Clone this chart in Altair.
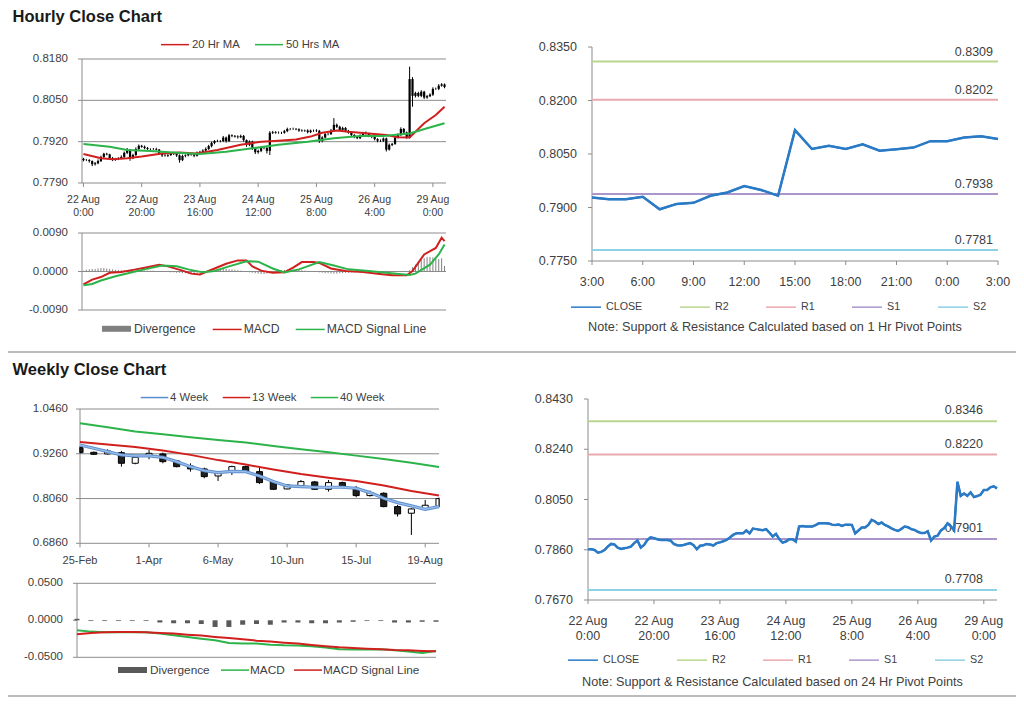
import altair as alt
import pandas as pd

# ---------------- data ----------------
section_titles = ["Hourly Close Chart", "Weekly Close Chart"]

# hourly closes (125 bars, 22 Aug 0:00 .. 29 Aug 4:00)
h_close = [
    0.7862, 0.7862, 0.7859, 0.7849, 0.7852, 0.7859, 0.7872, 0.7882, 0.7880, 0.7868,
    0.7863, 0.7866, 0.7868, 0.7872, 0.7885, 0.7895, 0.7868, 0.7878, 0.7897, 0.7907,
    0.7904, 0.7900, 0.7897, 0.7897, 0.7897, 0.7895, 0.7882, 0.7877, 0.7876, 0.7878,
    0.7882, 0.7885, 0.7877, 0.7862, 0.7875, 0.7877, 0.7882, 0.7880, 0.7876, 0.7885,
    0.7888, 0.7892, 0.7897, 0.7906, 0.7916, 0.7922, 0.7922, 0.7922, 0.7933, 0.7922,
    0.7940, 0.7938, 0.7936, 0.7934, 0.7938, 0.7925, 0.7910, 0.7920, 0.7900, 0.7887,
    0.7891, 0.7900, 0.7900, 0.7891, 0.7948, 0.7950, 0.7948, 0.7948, 0.7948, 0.7953,
    0.7960, 0.7960, 0.7960, 0.7959, 0.7955, 0.7954, 0.7955, 0.7950, 0.7955, 0.7955,
    0.7954, 0.7922, 0.7933, 0.7944, 0.7944, 0.7954, 0.7973, 0.7967, 0.7957, 0.7963,
    0.7954, 0.7948, 0.7941, 0.7935, 0.7931, 0.7939, 0.7948, 0.7945, 0.7938, 0.7935,
    0.7928, 0.7923, 0.7923, 0.7930, 0.7895, 0.7910, 0.7913, 0.7933, 0.7942, 0.7960,
    0.7949, 0.7933, 0.8117, 0.8064, 0.8073, 0.8064, 0.8077, 0.8059, 0.8063, 0.8068,
    0.8086, 0.8086, 0.8096, 0.8100, 0.8092,
]
h_first_open = 0.7866
# candle wicks above / below the body, in pips
h_wick_up = [
    3, 4, 3, 2, 4, 5, 4, 3, 3, 2, 4, 3, 3, 5, 4, 5, 2, 4, 5, 4,
    3, 4, 3, 2, 3, 4, 2, 3, 4, 3, 4, 3, 2, 3, 4, 3, 4, 2, 3, 4,
    3, 4, 5, 4, 4, 3, 4, 3, 5, 3, 4, 3, 3, 4, 4, 3, 2, 4, 3, 3,
    4, 4, 3, 3, 5, 4, 3, 4, 3, 4, 4, 3, 4, 3, 3, 4, 3, 4, 3, 3,
    4, 3, 4, 3, 4, 6, 21, 4, 3, 4, 3, 3, 4, 3, 3, 4, 3, 4, 3, 3,
    4, 3, 4, 3, 3, 4, 3, 4, 4, 5, 3, 3, 39, 6, 4, 4, 5, 3, 4, 4,
    5, 4, 5, 4, 3,
]
h_wick_dn = [
    4, 3, 5, 6, 4, 3, 3, 4, 3, 5, 4, 3, 4, 3, 3, 4, 8, 3, 3, 4,
    3, 4, 3, 4, 3, 3, 4, 5, 3, 4, 3, 4, 5, 8, 3, 4, 3, 4, 5, 3,
    4, 3, 3, 3, 4, 4, 3, 4, 3, 5, 3, 4, 3, 4, 3, 5, 6, 4, 6, 6,
    5, 4, 4, 8, 13, 4, 3, 3, 4, 3, 3, 4, 3, 3, 4, 3, 3, 4, 3, 4,
    4, 6, 4, 3, 4, 3, 3, 4, 3, 3, 4, 3, 4, 4, 3, 3, 4, 3, 4, 4,
    4, 5, 4, 4, 6, 3, 4, 3, 3, 4, 3, 4, 3, 34, 5, 4, 4, 5, 4, 3,
    4, 3, 4, 3, 4,
]
ma20_idx = [0, 6, 10, 15, 20, 27, 33, 39, 46, 54, 61, 67, 73, 78, 82, 87, 91, 98, 104, 108, 112, 117, 121, 124]
ma20 = [0.7881, 0.7868, 0.7865, 0.7868, 0.7873, 0.7883, 0.7886, 0.7883, 0.7894, 0.7910,
        0.7920, 0.7923, 0.7927, 0.7936, 0.7948, 0.7955, 0.7951, 0.7946, 0.7941, 0.7934,
        0.7933, 0.7978, 0.8004, 0.8030]
ma50_idx = [0, 9, 15, 23, 32, 40, 49, 58, 67, 77, 86, 95, 103, 112, 118, 124]
ma50 = [0.7913, 0.7904, 0.7894, 0.7891, 0.7885, 0.7881, 0.7888, 0.7899, 0.7910, 0.7920,
        0.7931, 0.7938, 0.7938, 0.7946, 0.7962, 0.7978]

macd_h_idx = [0, 3, 6, 9, 13, 18, 21, 26, 29, 34, 37, 40, 44, 49, 53, 56, 58, 61, 65, 69,
              72, 75, 79, 81, 85, 90, 96, 101, 106, 111, 113, 117, 121, 123, 124]
macd_h = [-0.0030, -0.0019, -0.0013, -0.0003, -0.0001, 0.0005, 0.0009, 0.0016, 0.0012, 0.0002,
          -0.0005, -0.0007, 0.0004, 0.0018, 0.0026, 0.0026, 0.0012, 0.0002, -0.0003, -0.0002,
          0.0009, 0.0022, 0.0022, 0.0020, 0.0007, 0.0001, -0.0001, -0.0005, -0.0009, -0.0009,
          0.0001, 0.0040, 0.0055, 0.0079, 0.0071]
sig_h_idx = [0, 3, 6, 11, 16, 21, 27, 32, 36, 41, 45, 50, 56, 60, 65, 69, 74, 81, 86, 91,
             98, 104, 112, 114, 119, 122, 124]
sig_h = [-0.0032, -0.0029, -0.0021, -0.0011, -0.0003, 0.0005, 0.0014, 0.0012, 0.0005, -0.0002,
         0.0001, 0.0012, 0.0024, 0.0023, 0.0007, -0.0002, 0.0005, 0.0022, 0.0014, 0.0005,
         0.0001, -0.0003, -0.0008, -0.0005, 0.0016, 0.0040, 0.0063]
# divergence, in units of 0.0001
div_h = [
    2, 4, 5, 6, 6, 7, 8, 8, 7, 6, 5, 4, 4, 3, 3, 3, 3, 3, 3, 2,
    2, 2, 2, 2, 2, 1, 1, 1, 0, -1, -2, -2, -3, -3, -4, -4, -5, -5, -4, -3,
    -2, -1, 1, 2, 3, 4, 5, 6, 6, 6, 5, 5, 4, 3, 2, 1, -1, -2, -3, -4,
    -5, -6, -6, -5, -4, -2, -1, 1, 3, 4, 5, 5, 5, 4, 4, 3, 2, 1, 1, 0,
    -1, -2, -3, -4, -4, -5, -5, -5, -4, -4, -3, -3, -2, -2, -1, -1, -1, 0, 0, 0,
    0, 0, 0, 0, -1, -1, -1, -1, -1, 0, 0, 0, 3, 10, 16, 22, 27, 31, 34, 34,
    33, 30, 29, 31, 13,
]
hourly_ticks = [0, 20, 40, 60, 80, 100, 120]
hourly_tick_labels = ["22 Aug|0:00", "22 Aug|20:00", "23 Aug|16:00", "24 Aug|12:00",
                      "25 Aug|8:00", "26 Aug|4:00", "29 Aug|0:00"]
last24_ticks = [0, 3, 6, 9, 12, 15, 18, 21, 24]
last24_labels = ["3:00", "6:00", "9:00", "12:00", "15:00", "18:00", "21:00", "0:00", "3:00"]

piv_names = ["R2", "R1", "S1", "S2"]
piv1_vals = [0.8309, 0.8202, 0.7938, 0.7781]
piv24_vals = [0.8346, 0.8220, 0.7901, 0.7708]
note1 = "Note: Support & Resistance Calculated based on 1 Hr Pivot Points"
note24 = "Note: Support & Resistance Calculated based on 24 Hr Pivot Points"

# weekly candles (25-Feb .. 26-Aug)
w_open = [0.9424, 0.9299, 0.9255, 0.9290, 0.9005, 0.9201, 0.9255, 0.9067, 0.8933, 0.8853,
          0.8665, 0.8799, 0.8915, 0.8781, 0.8514, 0.8317, 0.8406, 0.8505, 0.8308, 0.8487,
          0.8335, 0.8139, 0.8201, 0.7844, 0.7666, 0.7781, 0.7844]
w_close = [0.9290, 0.9246, 0.9335, 0.9005, 0.9165, 0.9272, 0.9049, 0.8915, 0.8853, 0.8647,
           0.8781, 0.8915, 0.8781, 0.8487, 0.8308, 0.8424, 0.8514, 0.8308, 0.8487, 0.8362,
           0.8139, 0.8219, 0.7844, 0.7648, 0.7781, 0.7880, 0.8058]
w_high = [0.9451, 0.9317, 0.9380, 0.9335, 0.9183, 0.9362, 0.9290, 0.9094, 0.9004, 0.8888,
          0.8799, 0.8942, 0.8942, 0.8888, 0.8531, 0.8442, 0.8558, 0.8531, 0.8558, 0.8514,
          0.8398, 0.8272, 0.8228, 0.7889, 0.7799, 0.8022, 0.8085]
w_low = [0.9272, 0.9228, 0.9237, 0.8915, 0.8978, 0.9112, 0.9004, 0.8897, 0.8781, 0.8603,
         0.8531, 0.8692, 0.8755, 0.8451, 0.8290, 0.8308, 0.8362, 0.8290, 0.8246, 0.8335,
         0.8094, 0.8112, 0.7826, 0.7576, 0.7085, 0.7755, 0.7826]
ma4w = [0.9496, 0.9406, 0.9317, 0.9228, 0.9201, 0.9201, 0.9165, 0.9049, 0.8915, 0.8808,
        0.8755, 0.8790, 0.8781, 0.8665, 0.8514, 0.8398, 0.8380, 0.8362, 0.8362, 0.8362,
        0.8335, 0.8219, 0.8067, 0.7951, 0.7862, 0.7773, 0.7844]
ma_even_idx = [0, 2, 4, 6, 8, 10, 12, 14, 16, 18, 20, 22, 24, 26]
ma13w = [0.9576, 0.9510, 0.9440, 0.9350, 0.9230, 0.9090, 0.8970, 0.8840, 0.8720, 0.8620,
         0.8530, 0.8410, 0.8260, 0.8142]
ma40w = [1.0076, 0.9970, 0.9860, 0.9780, 0.9700, 0.9630, 0.9560, 0.9470, 0.9380, 0.9300,
         0.9210, 0.9120, 0.9020, 0.8905]
w_macd = [-0.0135, -0.0153, -0.0162, -0.0162, -0.0158, -0.0162, -0.0180, -0.0203, -0.0225, -0.0248,
          -0.0270, -0.0306, -0.0315, -0.0315, -0.0329, -0.0338, -0.0342, -0.0351, -0.0369, -0.0392,
          -0.0396, -0.0396, -0.0392, -0.0405, -0.0423, -0.0441, -0.0414]
w_signal = [-0.0189, -0.0171, -0.0162, -0.0158, -0.0158, -0.0162, -0.0171, -0.0180, -0.0194, -0.0207,
            -0.0225, -0.0239, -0.0257, -0.0275, -0.0288, -0.0302, -0.0315, -0.0333, -0.0351, -0.0365,
            -0.0374, -0.0383, -0.0392, -0.0401, -0.0405, -0.0414, -0.0419]
w_div = [0.0020, -0.0010, -0.0010, -0.0010, -0.0010, -0.0010, -0.0030, -0.0040, -0.0040, -0.0050,
         -0.0090, -0.0090, -0.0060, -0.0050, -0.0060, -0.0030, -0.0030, -0.0040, -0.0040, -0.0030,
         -0.0020, -0.0010, -0.0010, -0.0030, -0.0030, -0.0020, -0.0020]
week_ticks = [0, 5, 10, 15, 20, 25]
week_labels = ["25-Feb", "1-Apr", "6-May", "10-Jun", "15-Jul", "19-Aug"]

# ---------------- style ----------------
FONT = "Liberation Sans"
TXT = "#404040"
AXC = "#8c8c8c"
RED = "#d0201e"
GREEN = "#2cb34a"
BLUE = "#2a7ac6"
BLUE4 = "#5b8fd0"
BLUE4_IN = "#9dbde6"
DIVC = "#808080"
DIVW = "#595959"
R2C, R1C, S1C, S2C = "#b9d68c", "#eaa9ae", "#ab96cc", "#8dd1e6"
W, H = 1008, 689
M = 8  # page margin
ONE = pd.DataFrame({"k": [0]})


def sc(domain, a, b, clamp=False):
    return alt.Scale(domain=domain, range=[a - M, b - M], nice=False, zero=False, clamp=clamp)


def dX(v, X):
    return alt.X(datum=v, type="quantitative", scale=X, axis=None)


def dY(v, Y):
    return alt.Y(datum=v, type="quantitative", scale=Y, axis=None)


def y_axis(X, Y, x0, ticks, size=11.5, pad=14):
    tdf = pd.DataFrame({"v": ticks, "lab": [f"{t:.4f}" for t in ticks]})
    return [
        alt.Chart(ONE).mark_rule(color=AXC, strokeWidth=1).encode(
            x=dX(x0, X), y=dY(min(ticks), Y), y2=alt.Y2(datum=max(ticks))),
        alt.Chart(tdf).mark_point(shape="M0,0H-1", size=64, color=AXC, strokeWidth=1, opacity=1,
                                  filled=False).encode(x=dX(x0, X), y=alt.Y("v:Q", scale=Y, axis=None)),
        alt.Chart(tdf).mark_text(align="right", baseline="middle", dx=-pad, fontSize=size, font=FONT,
                                 color=TXT).encode(x=dX(x0, X), y=alt.Y("v:Q", scale=Y, axis=None),
                                                   text="lab:N"),
    ]


def x_axis(X, Y, y0, x0, x1, ticks, labels, size=11, pad=12, lh=12.5):
    tdf = pd.DataFrame({"v": ticks, "lab": labels})
    return [
        alt.Chart(ONE).mark_rule(color=AXC, strokeWidth=1).encode(
            x=dX(x0, X), x2=alt.X2(datum=x1), y=dY(y0, Y)),
        alt.Chart(tdf).mark_point(shape="M0,0V1", size=64, color=AXC, strokeWidth=1, opacity=1,
                                  filled=False).encode(x=alt.X("v:Q", scale=X, axis=None), y=dY(y0, Y)),
        alt.Chart(tdf).mark_text(align="center", baseline="top", dy=pad, fontSize=size, font=FONT,
                                 color=TXT, lineBreak="|", lineHeight=lh).encode(
            x=alt.X("v:Q", scale=X, axis=None), y=dY(y0, Y), text="lab:N"),
    ]


def grid(values, X, Y, x0, x1):
    return alt.Chart(pd.DataFrame({"g": values})).mark_rule(color=AXC, strokeWidth=1).encode(
        x=dX(x0, X), x2=alt.X2(datum=x1), y=alt.Y("g:Q", scale=Y, axis=None))


def leg(x, y, size, **kw):
    base = dict(orient="none", legendX=x - M, legendY=y - M - size / 2, direction="horizontal",
                title=None, symbolType="stroke", symbolStrokeWidth=1.5, symbolSize=size * size,
                labelFontSize=11.5, labelColor=TXT, labelFont=FONT, padding=0, labelOffset=4,
                columnPadding=17)
    base.update(kw)
    return alt.Legend(**base)


def note_mark(text, x, y):
    return alt.Chart(pd.DataFrame({"t": [text]})).mark_text(
        align="center", baseline="middle", fontSize=12.7, font=FONT, color=TXT).encode(
        x=alt.value(x - M), y=alt.value(y - M), text="t:N")


# ---------------- panel 1: hourly candles ----------------
n = len(h_close)
hdf = pd.DataFrame({"i": list(range(n)), "o": [h_first_open] + h_close[:-1], "c": h_close})
hdf["hi"] = hdf[["o", "c"]].max(axis=1) + pd.Series(h_wick_up) / 10000
hdf["lo"] = hdf[["o", "c"]].min(axis=1) - pd.Series(h_wick_dn) / 10000

X1 = sc([-0.5, 124.5], 82, 446)
Y1 = sc([0.7790, 0.8180], 183, 59)
ma_df = pd.concat([
    pd.DataFrame({"i": ma20_idx, "v": ma20, "s": "20 Hr MA"}),
    pd.DataFrame({"i": ma50_idx, "v": ma50, "s": "50 Hrs MA"}),
])
p1 = alt.layer(
    grid([0.7920, 0.8050, 0.8180], X1, Y1, -0.5, 124.5),
    *y_axis(X1, Y1, -0.5, [0.7790, 0.7920, 0.8050, 0.8180]),
    *x_axis(X1, Y1, 0.7790, -0.5, 124.5, hourly_ticks, hourly_tick_labels, size=10.5, pad=12, lh=12.5),
    alt.Chart(hdf).mark_rule(color="#000000", strokeWidth=1).encode(
        x=alt.X("i:Q", scale=X1, axis=None), y=alt.Y("lo:Q", scale=Y1, axis=None), y2="hi:Q"),
    alt.Chart(hdf).mark_rule(color="#000000", strokeWidth=2.2).encode(
        x=alt.X("i:Q", scale=X1, axis=None), y=alt.Y("o:Q", scale=Y1, axis=None), y2="c:Q"),
    alt.Chart(ma_df).mark_line(strokeWidth=2).encode(
        x=alt.X("i:Q", scale=X1, axis=None), y=alt.Y("v:Q", scale=Y1, axis=None),
        color=alt.Color("s:N", scale=alt.Scale(domain=["20 Hr MA", "50 Hrs MA"], range=[RED, GREEN]),
                        legend=leg(160, 43.3, 28, labelOffset=2, columnPadding=12, labelFontSize=11.3))),
)

# ---------------- panel 2: hourly MACD ----------------
Y2 = sc([-0.009, 0.009], 310, 233)
div_df = pd.DataFrame({"i": list(range(n)), "z": 0.0, "d": [d / 10000 for d in div_h], "s": "Divergence"})
macd_df = pd.concat([
    pd.DataFrame({"i": macd_h_idx, "v": macd_h, "s": "MACD"}),
    pd.DataFrame({"i": sig_h_idx, "v": sig_h, "s": "MACD Signal Line"}),
])
p2 = alt.layer(
    grid([-0.009, 0.0, 0.009], X1, Y2, -0.5, 124.5),
    *y_axis(X1, Y2, -0.5, [-0.009, 0.0, 0.009]),
    alt.Chart(div_df).mark_rule(strokeWidth=1).encode(
        x=alt.X("i:Q", scale=X1, axis=None), y=alt.Y("z:Q", scale=Y2, axis=None), y2="d:Q",
        color=alt.Color("s:N", scale=alt.Scale(domain=["Divergence"], range=[DIVC]),
                        legend=leg(99, 325.8, 29, symbolStrokeWidth=6, labelFontSize=12.2,
                                   labelOffset=0))),
    alt.Chart(macd_df).mark_line(strokeWidth=2).encode(
        x=alt.X("i:Q", scale=X1, axis=None), y=alt.Y("v:Q", scale=Y2, axis=None),
        color=alt.Color("s:N", scale=alt.Scale(domain=["MACD", "MACD Signal Line"], range=[RED, GREEN]),
                        legend=leg(211.7, 328.3, 29, labelFontSize=12.2, columnPadding=13,
                                   labelOffset=1))),
).resolve_scale(color="independent")


# ---------------- panels 3 & 6: close with pivots ----------------
def pivot_panel(X, Y, xmax, closes, pvals, yvals, ticks, tlabels, xsize, xpad, lh, legpos, dx, dy):
    pdf = pd.DataFrame({"s": piv_names, "v": pvals, "lab": [f"{v:.4f}" for v in pvals]})
    rows = []
    for s, v in zip(piv_names, pvals):
        rows.append({"x": 0, "v": v, "s": s})
        rows.append({"x": xmax, "v": v, "s": s})
    for k, v in enumerate(closes):
        rows.append({"x": k, "v": v, "s": "CLOSE"})
    ldf = pd.DataFrame(rows)
    cdf = pd.DataFrame({"x": list(range(len(closes))), "v": closes})
    cscale = alt.Scale(domain=["CLOSE"] + piv_names, range=[BLUE, R2C, R1C, S1C, S2C])
    labels = alt.Chart(pdf).mark_text(align="right", baseline="alphabetic", dx=dx, dy=dy,
                                      fontSize=12.5, font=FONT, color=TXT).encode(
        x=dX(xmax, X), y=alt.Y("v:Q", scale=Y, axis=None), text="lab:N")
    lines = alt.Chart(ldf).mark_line(strokeWidth=2).encode(
        x=alt.X("x:Q", scale=X, axis=None), y=alt.Y("v:Q", scale=Y, axis=None),
        color=alt.Color("s:N", scale=cscale,
                        legend=leg(legpos[0], legpos[1], 30, labelFontSize=10.7, columnPadding=34)))
    close = alt.Chart(cdf).mark_line(strokeWidth=2.5, color=BLUE).encode(
        x=alt.X("x:Q", scale=X, axis=None), y=alt.Y("v:Q", scale=Y, axis=None))
    return alt.layer(
        *y_axis(X, Y, 0, yvals, size=12.5, pad=15),
        *x_axis(X, Y, min(yvals), 0, xmax, ticks, tlabels, size=xsize, pad=xpad, lh=lh),
        labels, lines, close,
    )


X3 = sc([0, 24], 592, 998)
Y3 = sc([0.775, 0.835], 261, 47)
p3 = pivot_panel(X3, Y3, 24, h_close[100:], piv1_vals, [0.775, 0.790, 0.805, 0.820, 0.835],
                 last24_ticks, last24_labels, 12.5, 15, 15, (570, 306), -5, -6)

X6 = sc([0, 124], 588, 997)
Y6 = sc([0.767, 0.843], 600, 399)
p6 = pivot_panel(X6, Y6, 124, h_close, piv24_vals, [0.767, 0.786, 0.805, 0.824, 0.843],
                 hourly_ticks, hourly_tick_labels, 12.5, 14.5, 15, (567, 659), -14, -7)

# ---------------- panel 4: weekly candles ----------------
nw = len(w_close)
wdf = pd.DataFrame({"i": list(range(nw)), "o": w_open, "c": w_close, "hi": w_high, "lo": w_low})
wdf["xl"] = wdf["i"] - 0.22
wdf["xr"] = wdf["i"] + 0.22
X4 = sc([0, 26], 80, 439, clamp=True)
Y4 = sc([0.686, 1.046], 543.3, 409)
wma_df = pd.concat([
    pd.DataFrame({"i": ma_even_idx, "v": ma13w, "s": "13 Week"}),
    pd.DataFrame({"i": ma_even_idx, "v": ma40w, "s": "40 Week"}),
])
w4_df = pd.DataFrame({"i": list(range(nw)), "v": ma4w, "s": "4 Week"})
wscale = alt.Scale(domain=["4 Week", "13 Week", "40 Week"], range=[BLUE4, RED, GREEN])
p4 = alt.layer(
    grid([0.806, 0.926, 1.046], X4, Y4, 0, 26),
    *y_axis(X4, Y4, 0, [0.686, 0.806, 0.926, 1.046], pad=12),
    *x_axis(X4, Y4, 0.686, 0, 26, week_ticks, week_labels, size=11, pad=11.5),
    alt.Chart(wdf).mark_rule(color="#000000", strokeWidth=1).encode(
        x=alt.X("i:Q", scale=X4, axis=None), y=alt.Y("lo:Q", scale=Y4, axis=None), y2="hi:Q"),
    alt.Chart(wdf).mark_rect(stroke="#000000", strokeWidth=1).encode(
        x=alt.X("xl:Q", scale=X4, axis=None), x2="xr:Q",
        y=alt.Y("o:Q", scale=Y4, axis=None), y2="c:Q",
        fill=alt.condition(alt.datum.c < alt.datum.o, alt.value("#1f1f1f"), alt.value("#ffffff"))),
    alt.Chart(wma_df).mark_line(strokeWidth=2).encode(
        x=alt.X("i:Q", scale=X4, axis=None), y=alt.Y("v:Q", scale=Y4, axis=None),
        color=alt.Color("s:N", scale=wscale,
                        legend=leg(140, 396.7, 27.5, columnPadding=10, labelOffset=1, labelFontSize=11.3))),
    alt.Chart(w4_df).mark_line(strokeWidth=3.2, color=BLUE4).encode(
        x=alt.X("i:Q", scale=X4, axis=None), y=alt.Y("v:Q", scale=Y4, axis=None)),
    alt.Chart(w4_df).mark_line(strokeWidth=1.3, color=BLUE4_IN).encode(
        x=alt.X("i:Q", scale=X4, axis=None), y=alt.Y("v:Q", scale=Y4, axis=None)),
)

# ---------------- panel 5: weekly MACD ----------------
X5 = sc([0, 26], 77, 436)
Y5 = sc([-0.05, 0.05], 657.3, 583.3)
wdiv_df = pd.DataFrame({"i": list(range(nw)), "z": 0.0, "d": w_div, "s": "Divergence"})
wmacd_df = pd.concat([
    pd.DataFrame({"i": list(range(nw)), "v": w_macd, "s": "MACD"}),
    pd.DataFrame({"i": list(range(nw)), "v": w_signal, "s": "MACD Signal Line"}),
])
p5 = alt.layer(
    grid([-0.05, 0.05], X5, Y5, 0, 26),
    *y_axis(X5, Y5, 0, [-0.05, 0.0, 0.05]),
    alt.Chart(wdiv_df).mark_rule(strokeWidth=5).encode(
        x=alt.X("i:Q", scale=X5, axis=None), y=alt.Y("z:Q", scale=Y5, axis=None), y2="d:Q",
        color=alt.Color("s:N", scale=alt.Scale(domain=["Divergence"], range=[DIVW]),
                        legend=leg(115, 667, 29, symbolStrokeWidth=6, labelFontSize=11.8,
                                   labelOffset=0))),
    alt.Chart(wmacd_df).mark_line(strokeWidth=2).encode(
        x=alt.X("i:Q", scale=X5, axis=None), y=alt.Y("v:Q", scale=Y5, axis=None),
        color=alt.Color("s:N", scale=alt.Scale(domain=["MACD", "MACD Signal Line"], range=[GREEN, RED]),
                        legend=leg(220, 669, 28, labelFontSize=11.8, columnPadding=6, labelOffset=0))),
).resolve_scale(color="independent")


# ---------------- titles & separators ----------------
def title_mark(text, x, y):
    return alt.Chart(pd.DataFrame({"t": [text]})).mark_text(
        align="left", baseline="alphabetic", fontSize=16.5, fontWeight="bold", font=FONT,
        color="#1a1a1a").encode(x=alt.value(x - M), y=alt.value(y - M), text="t:N")


def sep_mark(y):
    return alt.Chart(ONE).mark_rule(color="#a6a6a6", strokeWidth=1.5).encode(
        x=alt.value(0), x2=alt.value(W), y=alt.value(y - M))


chart = alt.layer(
    title_mark(section_titles[0], 12.5, 21.7),
    title_mark(section_titles[1], 12.5, 375),
    sep_mark(352),
    sep_mark(696),
    note_mark(note1, 775, 326.7),
    note_mark(note24, 772.5, 681.7),
    p1, p2, p3, p4, p5, p6,
).resolve_scale(x="independent", y="independent", color="independent").properties(
    width=W, height=H, padding=0, autosize="none"
).configure(font=FONT, background="white").configure_view(strokeWidth=0, stroke="transparent")

chart.save("out.html", embed_options={"renderer": "svg", "actions": False})
